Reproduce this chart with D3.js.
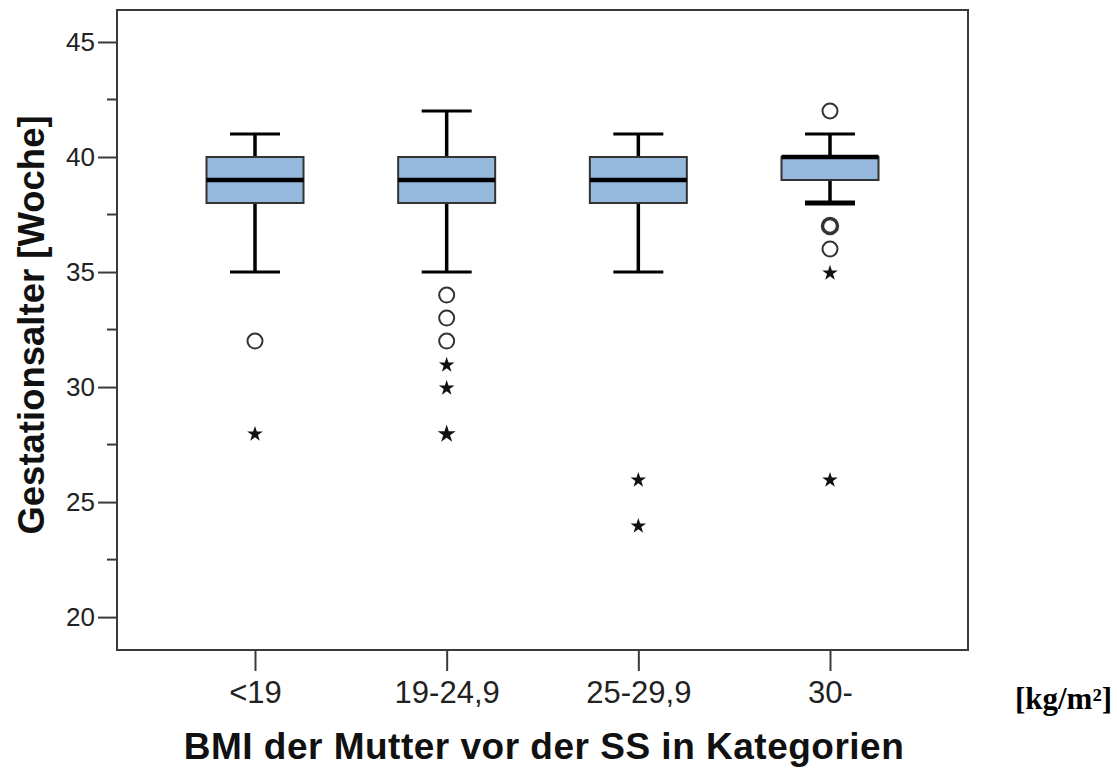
<!DOCTYPE html>
<html>
<head>
<meta charset="utf-8">
<script src="https://cdn.jsdelivr.net/npm/d3@7"></script>
<style>
  body { margin: 0; background: #fff; }
  svg { display: block; }
</style>
</head>
<body>
<svg id="chart" width="1117" height="769"></svg>
<script>
// BMI categories and box statistics (Gestationsalter in weeks)
const categories = ["<19", "19-24,9", "25-29,9", "30-"];
const lowerWhisker = [35, 35, 35, 38];
const q1 = [38, 38, 38, 39];
const medians = [39, 39, 39, 40];
const q3 = [40, 40, 40, 40];
const upperWhisker = [41, 42, 41, 41];
// circles = outliers, stars = extreme values (repeats are overplotted)
const outlierCircles = [[32], [34, 33, 32], [], [42, 37, 37, 36]];
const extremeStars = [[28], [31, 30, 28, 28], [26, 24], [35, 26]];
const yTicks = [20, 25, 30, 35, 40, 45];
const yMinorTicks = [22.5, 27.5, 32.5, 37.5, 42.5];

const FONT = "'Liberation Sans', Arial, sans-serif";
const BOX_FILL = "#94b9dc";
const AXIS = "#3a3a3a";

const svg = d3.select("#chart");
const plot = {left: 117, top: 10, right: 968, bottom: 650};

const x = d3.scalePoint()
    .domain(categories)
    .range([plot.left, plot.right])
    .padding(0.72);

const y = d3.scaleLinear()
    .domain([18.57, 46.39])
    .range([plot.bottom, plot.top]);

const boxW = 97, capW = 50;
// last group has many cases at the lower whisker, so its cap is drawn heavier
const heavyLowerCap = [false, false, false, true];

// frame
svg.append("rect")
    .attr("x", plot.left).attr("y", plot.top)
    .attr("width", plot.right - plot.left).attr("height", plot.bottom - plot.top)
    .attr("fill", "none").attr("stroke", AXIS).attr("stroke-width", 2);

// y axis ticks
const yAxis = svg.append("g").attr("transform", `translate(${plot.left},0)`)
    .call(d3.axisLeft(y).tickValues(yTicks).tickSize(19).tickPadding(3));
yAxis.select(".domain").remove();
yAxis.selectAll(".tick line").attr("stroke", AXIS).attr("stroke-width", 2);
yAxis.selectAll(".tick text")
    .attr("font-family", FONT).attr("font-size", 26).attr("fill", "#222");

svg.append("g").selectAll("line").data(yMinorTicks).join("line")
    .attr("x1", plot.left - 10).attr("x2", plot.left)
    .attr("y1", d => y(d)).attr("y2", d => y(d))
    .attr("stroke", AXIS).attr("stroke-width", 2);

// x axis ticks
const xAxis = svg.append("g").attr("transform", `translate(0,${plot.bottom})`)
    .call(d3.axisBottom(x).tickSize(21).tickPadding(10));
xAxis.select(".domain").remove();
xAxis.selectAll(".tick line").attr("stroke", AXIS).attr("stroke-width", 2);
xAxis.selectAll(".tick text")
    .attr("font-family", FONT).attr("font-size", 31).attr("fill", "#222");

// boxes
const groups = svg.append("g").selectAll("g").data(categories).join("g")
    .attr("transform", d => `translate(${x(d)},0)`);

groups.append("line") // whisker
    .attr("x1", 0).attr("x2", 0)
    .attr("y1", (d, i) => y(lowerWhisker[i])).attr("y2", (d, i) => y(upperWhisker[i]))
    .attr("stroke", "#000").attr("stroke-width", 3.5);

groups.append("line") // upper cap
    .attr("x1", -capW / 2).attr("x2", capW / 2)
    .attr("y1", (d, i) => y(upperWhisker[i])).attr("y2", (d, i) => y(upperWhisker[i]))
    .attr("stroke", "#000").attr("stroke-width", 3);

groups.append("line") // lower cap
    .attr("x1", -capW / 2).attr("x2", capW / 2)
    .attr("y1", (d, i) => y(lowerWhisker[i])).attr("y2", (d, i) => y(lowerWhisker[i]))
    .attr("stroke", "#000").attr("stroke-width", (d, i) => heavyLowerCap[i] ? 5 : 3);

groups.append("rect")
    .attr("x", -boxW / 2).attr("width", boxW)
    .attr("y", (d, i) => y(q3[i])).attr("height", (d, i) => y(q1[i]) - y(q3[i]))
    .attr("fill", BOX_FILL).attr("stroke", "#333").attr("stroke-width", 2);

groups.append("line") // median
    .attr("x1", -boxW / 2).attr("x2", boxW / 2)
    .attr("y1", (d, i) => y(medians[i])).attr("y2", (d, i) => y(medians[i]))
    .attr("stroke", "#000").attr("stroke-width", 4.5);

// outliers
groups.each(function (d, i) {
    const g = d3.select(this);
    const circ = d3.rollups(outlierCircles[i], v => v.length, v => v);
    g.selectAll("circle.out").data(circ).join("circle")
        .attr("class", "out")
        .attr("cx", 0).attr("cy", c => y(c[0])).attr("r", 7.5)
        .attr("fill", "none").attr("stroke", "#333")
        .attr("stroke-width", c => c[1] > 1 ? 3.4 : 2);
    const stars = d3.rollups(extremeStars[i], v => v.length, v => v);
    g.selectAll("path.ext").data(stars).join("path")
        .attr("class", "ext")
        .attr("transform", s => `translate(0,${y(s[0]) + 1})`)
        .attr("d", s => d3.symbol(d3.symbolStar, s[1] > 1 ? 100 : 75)())
        .attr("fill", "#111");
});

// axis titles
svg.append("text")
    .attr("transform", `translate(44,325) rotate(-90)`)
    .attr("text-anchor", "middle")
    .attr("font-family", FONT).attr("font-weight", "bold").attr("font-size", 36.5)
    .attr("fill", "#111")
    .text("Gestationsalter [Woche]");

svg.append("text")
    .attr("x", 544).attr("y", 759)
    .attr("text-anchor", "middle")
    .attr("font-family", FONT).attr("font-weight", "bold").attr("font-size", 37)
    .attr("letter-spacing", 0.5)
    .attr("fill", "#111")
    .text("BMI der Mutter vor der SS in Kategorien");

svg.append("text")
    .attr("x", 1112).attr("y", 709)
    .attr("text-anchor", "end")
    .attr("font-family", "'Liberation Serif', 'Times New Roman', serif")
    .attr("font-weight", "bold").attr("font-size", 31)
    .attr("fill", "#000")
    .text("[kg/m²]");
</script>
</body>
</html>
